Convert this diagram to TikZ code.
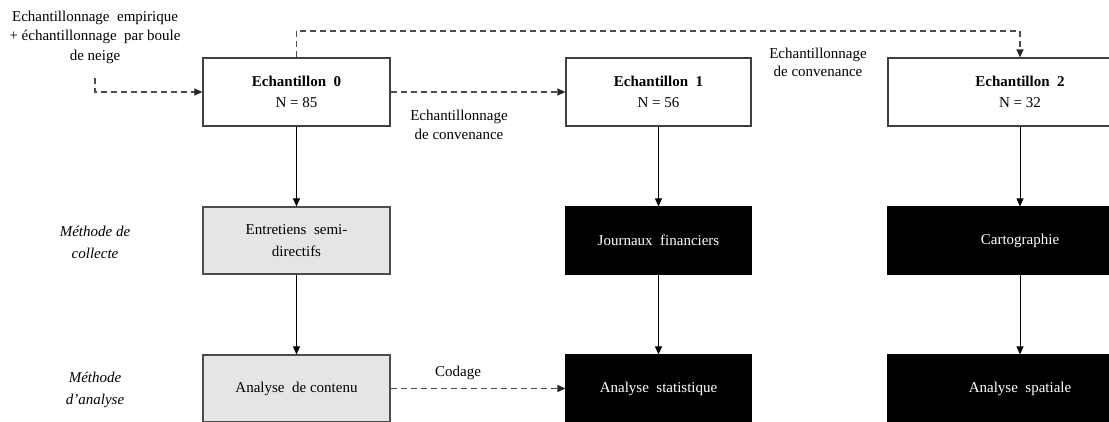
\documentclass[tikz,border=0pt]{standalone}
\usepackage{fontspec}
\setmainfont{Liberation Serif}
\usetikzlibrary{arrows.meta}
\begin{document}
\begin{tikzpicture}[x=1pt,y=-1pt,
  every node/.style={font=\fontsize{15}{18.5}\selectfont, inner sep=0pt},
  sbox/.style={draw=black!75, line width=1.2pt, fill=white, align=center, minimum height=68pt, font=\fontsize{15}{20.5}\selectfont},
  gbox/.style={draw=black!70, line width=1.2pt, fill=black!10, align=center, minimum height=67pt, font=\fontsize{15}{22}\selectfont},
  kbox/.style={draw=black, line width=1.2pt, fill=black, text=white, align=center, minimum height=67pt},
  lbl/.style={align=center},
  arr/.style={line width=0.9pt, -{Triangle[length=8pt,width=7pt]}},
  darr/.style={line width=1.2pt, draw=black!70, dash pattern=on 6pt off 4pt, -{Triangle[length=8pt,width=7pt,color=black!85,fill=black!85]}}
]
\useasboundingbox (0,0) rectangle (1109,421);
\fill[white] (0,0) rectangle (1109,421);

% samples
\node[sbox, minimum width=187pt] (e0) at (296.5,92) {\textbf{Echantillon\ \ 0}\\N = 85};
\node[sbox, minimum width=185pt] (e1) at (658.5,92) {\textbf{Echantillon\ \ 1}\\N = 56};
\node[sbox, minimum width=264pt] (e2) at (1020,92) {\textbf{Echantillon\ \ 2}\\N = 32};

% collection
\node[gbox, minimum width=187pt] (c0) at (296.5,240.5) {Entretiens\ \ semi-\\directifs};
\node[kbox, minimum width=185pt] (c1) at (658.5,240.5) {Journaux\ \ financiers};
\node[kbox, minimum width=264pt] (c2) at (1020,240.5) {Cartographie};

% analysis
\node[gbox, minimum width=187pt] (a0) at (296.5,388.5) {Analyse\ \ de contenu};
\node[kbox, minimum width=185pt] (a1) at (658.5,388.5) {Analyse\ \ statistique};
\node[kbox, minimum width=264pt] (a2) at (1020,388.5) {Analyse\ \ spatiale};

% labels
\node[lbl, font=\fontsize{15}{19.5}\selectfont] (lsrc) at (95,37) {Echantillonnage\ \ empirique\\+ échantillonnage\ \ par boule\\de neige};
\node[lbl] (l01) at (459,125) {Echantillonnage\\de convenance};
\node[lbl] (l02) at (818,62.5) {Echantillonnage\\de convenance};
\node[lbl, font=\fontsize{15}{22}\selectfont\itshape] (mc) at (95,242) {Méthode de\\collecte};
\node[lbl, font=\fontsize{15}{22}\selectfont\itshape] (ma) at (95,390) {Méthode\\d’analyse};
\node (cod) at (458,373) {Codage};

% connectors
\coordinate (s0) at (95,78);
\coordinate (t) at (296.5,31);
\draw[darr] (s0) |- (e0.west);
\draw[darr] (e0.east) -- (e1.west);
\draw[darr] (e0.north) -- (e0.north |- t) -| (e2.north);
\draw[darr] (a0.east) -- (a1.west);

\draw[arr] (e0.south) -- (c0.north);
\draw[arr] (c0.south) -- (a0.north);
\draw[arr] (e1.south) -- (c1.north);
\draw[arr] (c1.south) -- (a1.north);
\draw[arr] (e2.south) -- (c2.north);
\draw[arr] (c2.south) -- (a2.north);
\end{tikzpicture}
\end{document}
